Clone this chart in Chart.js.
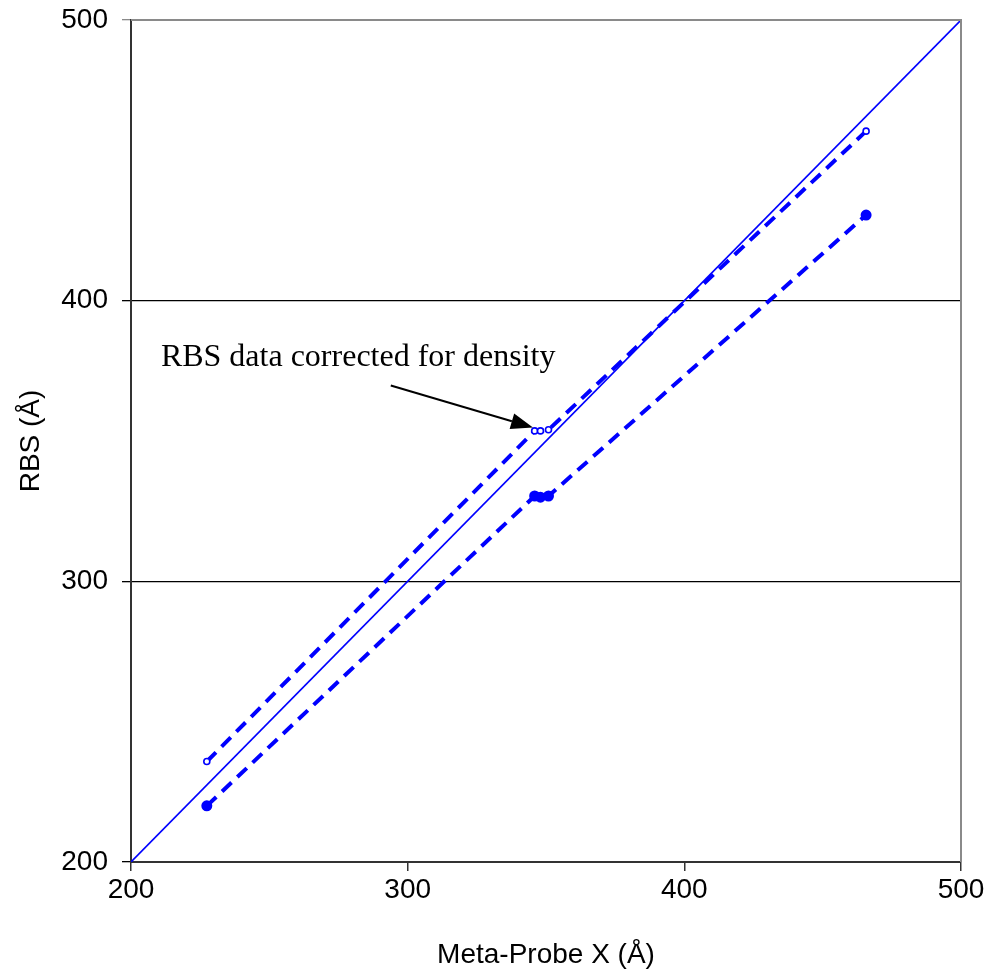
<!DOCTYPE html>
<html>
<head>
  <title>RBS vs Meta-Probe X</title>
  <meta charset="UTF-8">
  <script src="https://cdn.jsdelivr.net/npm/chart.js"></script>
  <style>
    html, body { margin: 0; padding: 0; background: #fff; }
    #wrap { width: 988px; height: 969px; }
  </style>
</head>
<body>
  <div id="wrap"><canvas id="rbsChart" width="988" height="969"></canvas></div>

  <script>
    // values (Angstrom)
    const metaProbeX = [227.4, 345.9, 348.0, 350.9, 465.7];
    const rbsCorrected = [235.8, 353.6, 353.6, 354.0, 460.4];
    const rbsRaw = [220.0, 330.4, 330.0, 330.4, 430.5];
    const identityX = [200, 500];
    const axisTicks = [200, 300, 400, 500];

    const toPoints = (xs, ys) => xs.map((x, i) => ({ x: x, y: ys[i] }));

    // annotation text + arrow, drawn through the scales
    const annotation = {
      id: 'annotation',
      afterDatasetsDraw(chart) {
        const { ctx, scales: { x, y }, chartArea: a } = chart;
        ctx.save();
        // top and right frame, grey like the original
        ctx.strokeStyle = '#8a8a8a';
        ctx.lineWidth = 2;
        ctx.beginPath();
        ctx.moveTo(a.left, a.top);
        ctx.lineTo(a.right, a.top);
        ctx.lineTo(a.right, a.bottom);
        ctx.stroke();

        ctx.fillStyle = '#000';
        ctx.font = '32px "Liberation Serif", "Times New Roman", serif';
        ctx.textBaseline = 'alphabetic';
        ctx.fillText('RBS data corrected for density', x.getPixelForValue(210.8), y.getPixelForValue(376.8));

        const x0 = x.getPixelForValue(293.9), y0 = y.getPixelForValue(369.8);
        const x1 = x.getPixelForValue(345.3), y1 = y.getPixelForValue(354.8);
        const ang = Math.atan2(y1 - y0, x1 - x0);
        const headLen = 22, headW = 8;
        ctx.strokeStyle = '#000';
        ctx.lineWidth = 2;
        ctx.beginPath();
        ctx.moveTo(x0, y0);
        ctx.lineTo(x1 - headLen * Math.cos(ang), y1 - headLen * Math.sin(ang));
        ctx.stroke();
        ctx.beginPath();
        ctx.moveTo(x1, y1);
        ctx.lineTo(x1 - headLen * Math.cos(ang) + headW * Math.sin(ang), y1 - headLen * Math.sin(ang) - headW * Math.cos(ang));
        ctx.lineTo(x1 - headLen * Math.cos(ang) - headW * Math.sin(ang), y1 - headLen * Math.sin(ang) + headW * Math.cos(ang));
        ctx.closePath();
        ctx.fill();
        ctx.restore();
      }
    };

    const tickFont = { family: '"Liberation Sans", Arial, sans-serif', size: 28 };

    const ctx = document.getElementById('rbsChart').getContext('2d');
    const chart = new Chart(ctx, {
      type: 'scatter',
      data: {
        datasets: [
          {
            label: 'y = x',
            data: toPoints(identityX, identityX),
            showLine: true,
            borderColor: '#0000ff',
            borderWidth: 1.6,
            pointRadius: 0,
            order: 3
          },
          {
            label: 'RBS corrected',
            data: toPoints(metaProbeX, rbsCorrected),
            showLine: true,
            borderColor: '#0000ff',
            borderWidth: 4,
            borderDash: [13, 8],
            pointRadius: 3,
            pointBorderWidth: 1.6,
            pointBackgroundColor: '#fff',
            pointBorderColor: '#0000ff',
            order: 1
          },
          {
            label: 'RBS',
            data: toPoints(metaProbeX, rbsRaw),
            showLine: true,
            borderColor: '#0000ff',
            borderWidth: 4,
            borderDash: [13, 8],
            pointRadius: 3.5,
            pointBackgroundColor: '#0000ff',
            pointBorderColor: '#0000ff',
            order: 2
          }
        ]
      },
      options: {
        responsive: false,
        animation: false,
        layout: { padding: { top: 20, right: 27, left: 0, bottom: 0 } },
        plugins: { legend: { display: false }, tooltip: { enabled: false } },
        scales: {
          x: {
            type: 'linear',
            min: 200, max: 500,
            afterBuildTicks: s => { s.ticks = axisTicks.map(v => ({ value: v })); },
            afterFit: s => { s.height = 107; s.paddingLeft = 0; s.paddingRight = 0; },
            ticks: { font: tickFont, color: '#000', padding: 2, maxRotation: 0 },
            grid: { drawOnChartArea: false, drawTicks: true, tickLength: 9, color: '#333', lineWidth: 1.5 },
            border: { color: '#333', width: 2 },
            title: { display: true, text: 'Meta-Probe X (Å)', font: tickFont, color: '#000', padding: { top: 0, bottom: -3 } }
          },
          y: {
            type: 'linear',
            min: 200, max: 500,
            afterBuildTicks: s => { s.ticks = axisTicks.map(v => ({ value: v })); },
            afterFit: s => { s.width = 131; s.paddingTop = 0; s.paddingBottom = 0; },
            ticks: { font: tickFont, color: '#000', padding: 14 },
            grid: {
              color: c => (c.tick && c.tick.value === 500) ? '#8a8a8a' : '#000',
              lineWidth: 1.3,
              tickLength: 9
            },
            border: { color: '#333', width: 2 },
            title: { display: true, text: 'RBS (Å)', font: tickFont, color: '#000', padding: { top: 14, bottom: 0 } }
          }
        }
      },
      plugins: [annotation]
    });
  </script>
</body>
</html>
